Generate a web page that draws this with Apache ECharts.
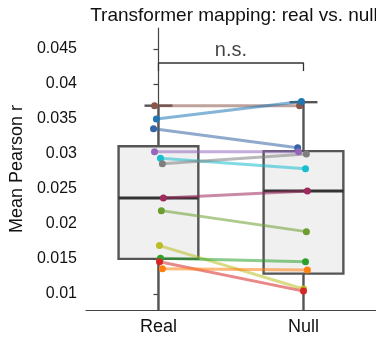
<!DOCTYPE html>
<html><head><meta charset="utf-8">
<script src="https://cdn.jsdelivr.net/npm/echarts@6/dist/echarts.min.js"></script>
<style>html,body{margin:0;padding:0;background:#fff}#c{width:376px;height:339px}</style>
</head><body><div id="c"></div>
<script>
const categories = ['Real', 'Null'];
const subjectColors = ['#8c564b', '#1f77b4', '#3465a4', '#9467bd', '#17becf', '#7f7f7f', '#9e2a5e', '#6b9e2e', '#bcbd22', '#2ca02c', '#d62728', '#ff7f0e'];
const realValues = [0.0369, 0.0350, 0.0336, 0.0303, 0.0294, 0.0286, 0.0237, 0.0219, 0.0169, 0.0151, 0.0146, 0.0136];
const nullValues = [0.0369, 0.0375, 0.0309, 0.0303, 0.0279, 0.0300, 0.0247, 0.0189, 0.0107, 0.0146, 0.0104, 0.0134];
const realJitter = [-0.027, -0.014, -0.034, -0.027, 0.014, 0.027, 0.034, 0.020, 0.007, 0.014, 0.007, 0.027];
const nullJitter = [-0.027, -0.014, -0.040, -0.034, 0.014, 0.020, 0.027, 0.020, 0.000, 0.014, 0.000, 0.027];
// [lower whisker, Q1, median, Q3, upper whisker]
const realBox = [0.0050, 0.0150, 0.0237, 0.0311, 0.0369];
const nullBox = [0.0050, 0.0129, 0.0247, 0.0304, 0.0374];
const yTickValues = [0.01, 0.015, 0.02, 0.025, 0.03, 0.035, 0.04, 0.045];
const bracketY = [0.04186, 0.0430];
const sigLabel = 'n.s.';

const FONT = 'Liberation Sans, Arial, sans-serif';
const chart = echarts.init(document.getElementById('c'), null, {renderer: 'canvas'});

const boxData = [[0].concat(realBox), [1].concat(nullBox)];

const series = [];
series.push({
  type: 'custom', xAxisIndex: 1, yAxisIndex: 0, z: 1, clip: true,
  data: boxData,
  renderItem: function (params, api) {
    const x = api.value(0);
    const lo = api.coord([x, api.value(1)]);
    const q1 = api.coord([x, api.value(2)]);
    const med = api.coord([x, api.value(3)]);
    const q3 = api.coord([x, api.value(4)]);
    const hi = api.coord([x, api.value(5)]);
    const w = api.size([1, 0])[0] * 0.55;
    const cw = w * 0.35;
    const cx = q1[0];
    const stroke = '#555';
    return {
      type: 'group',
      children: [
        {type: 'line', shape: {x1: cx, y1: q1[1], x2: cx, y2: lo[1]}, style: {stroke: stroke, lineWidth: 2.4}},
        {type: 'line', shape: {x1: cx, y1: q3[1], x2: cx, y2: hi[1]}, style: {stroke: stroke, lineWidth: 2.4}},
        {type: 'line', shape: {x1: cx - cw / 2, y1: hi[1], x2: cx + cw / 2, y2: hi[1]}, style: {stroke: stroke, lineWidth: 2.4}},
        {type: 'rect', shape: {x: cx - w / 2, y: q3[1], width: w, height: q1[1] - q3[1]}, style: {fill: '#f0f0f0', stroke: stroke, lineWidth: 2.4}},
        {type: 'line', shape: {x1: cx - w / 2, y1: med[1], x2: cx + w / 2, y2: med[1]}, style: {stroke: '#333', lineWidth: 3}}
      ]
    };
  }
});

for (let i = 0; i < realValues.length; i++) {
  series.push({
    type: 'line', xAxisIndex: 1, yAxisIndex: 0, z: 2, symbol: 'none', silent: true,
    data: [[0 + realJitter[i], realValues[i]], [1 + nullJitter[i], nullValues[i]]],
    lineStyle: {color: subjectColors[i], width: 3, opacity: 0.55}
  });
}
const pts = [];
for (let i = 0; i < realValues.length; i++) {
  pts.push({value: [0 + realJitter[i], realValues[i]], itemStyle: {color: subjectColors[i]}});
  pts.push({value: [1 + nullJitter[i], nullValues[i]], itemStyle: {color: subjectColors[i]}});
}
series.push({type: 'scatter', xAxisIndex: 1, yAxisIndex: 0, z: 3, symbolSize: 7, data: pts, itemStyle: {opacity: 1}});

series.push({
  type: 'line', xAxisIndex: 1, yAxisIndex: 0, z: 4, symbol: 'none',
  data: [[0, bracketY[0]], [0, bracketY[1]], [1, bracketY[1]], [1, bracketY[0]]],
  lineStyle: {color: '#333', width: 1.3}
});
series.push({
  type: 'scatter', xAxisIndex: 1, yAxisIndex: 0, z: 4, symbolSize: 0,
  data: [[0.5, bracketY[1]]],
  label: {show: true, position: 'top', distance: 3, formatter: sigLabel, fontFamily: FONT, fontSize: 20, color: '#111'}
});

chart.setOption({
  animation: false,
  backgroundColor: '#fff',
  title: {text: 'Transformer mapping: real vs. null', left: 229, textAlign: 'center', top: 1,
    textStyle: {fontFamily: FONT, fontSize: 19, fontWeight: 'normal', color: '#111'}},
  grid: {left: 83, top: 28, width: 296, height: 282, containLabel: false},
  xAxis: [
    {type: 'category', data: categories, boundaryGap: true,
      axisLine: {lineStyle: {color: '#444', width: 1.2}},
      axisTick: {alignWithLabel: true, length: 5, lineStyle: {color: '#444', width: 1.2}},
      axisLabel: {fontFamily: FONT, fontSize: 18, color: '#111', margin: 8},
      splitLine: {show: false}},
    {type: 'value', min: -0.5, max: 1.5, show: false}
  ],
  yAxis: [{
    type: 'value', min: 0.0077, max: 0.048,
    name: 'Mean Pearson r', nameLocation: 'middle', nameGap: 56,
    nameTextStyle: {fontFamily: FONT, fontSize: 18, color: '#111'},
    axisLine: {show: true, lineStyle: {color: '#444', width: 1.2}},
    axisTick: {show: true, length: 5, customValues: yTickValues, lineStyle: {color: '#444', width: 1.2}},
    axisLabel: {fontFamily: FONT, fontSize: 16, color: '#111', margin: 9, customValues: yTickValues,
      formatter: function (v) { return String(parseFloat(v.toFixed(4))); }},
    splitLine: {show: false}
  }],
  series: series
});
</script></body></html>
